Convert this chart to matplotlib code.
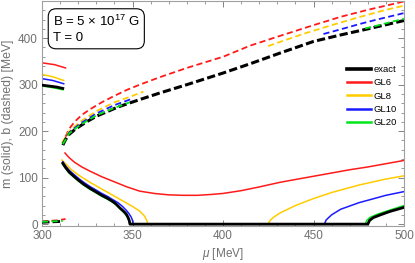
import matplotlib
matplotlib.use("Agg")
import matplotlib.pyplot as plt
from matplotlib.lines import Line2D
from matplotlib.ticker import MultipleLocator

plt.rcParams['font.family'] = ['Liberation Sans', 'DejaVu Sans']
plt.rcParams['mathtext.fontset'] = 'custom'
plt.rcParams['mathtext.rm'] = 'Liberation Sans'
plt.rcParams['mathtext.it'] = 'Liberation Sans:italic'

# ------ data (mu in MeV, values in MeV) ------

# upper solid branch, mu < ~312
mu_up_exact = [300, 304, 308, 311.5]
m_up_exact = [299, 297, 295, 292]
mu_up_gl20 = [300, 304, 308, 311.5]
m_up_gl20 = [297, 295, 292, 289]
mu_up_gl10 = [300, 306, 312]
m_up_gl10 = [313, 309, 302]
mu_up_gl8 = [300, 306, 312]
m_up_gl8 = [322, 317, 309]
mu_up_gl6 = [300, 307, 313]
m_up_gl6 = [347, 343, 336]

# lower solid branch (m), including the m = 0 stretch and the rise
mu_lo_exact = [311.5, 313, 315, 317, 320, 323, 326.5, 330, 333, 336, 339, 341, 343,
               345, 346.5, 347.5, 348.2, 348.6, 480, 481, 483, 487, 492, 500]
m_lo_exact = [131, 122, 112, 105, 95, 86, 77, 69, 62, 56, 49, 43, 35,
              28, 22, 15, 8, 0, 0, 8, 14, 20, 27, 36]
mu_lo_gl20 = [311.3, 313, 315, 317, 320, 323, 326.5, 330, 333, 336, 339, 341, 343,
              345, 346.3, 347.3, 348, 348.5, 478.5, 479.5, 481, 485, 492, 500]
m_lo_gl20 = [129, 120, 110, 103, 93, 84, 75, 67, 60, 54, 47, 41, 33,
             26, 20, 13, 7, 0, 0, 8, 14, 21, 30, 40]
mu_lo_gl10 = [311.5, 313, 315, 317, 320, 323, 326.5, 330, 333, 336, 339, 342,
              344.5, 346.5, 348, 349.3, 350, 350.3, 456, 457, 460, 465, 475, 490, 500]
m_lo_gl10 = [134, 125, 116, 109, 99, 90, 81, 73, 66, 60, 53, 46,
             38, 30, 23, 15, 8, 0, 0, 9, 20, 32, 46, 62, 70]
mu_lo_gl8 = [311, 313, 316, 320, 326.5, 331, 336, 341, 346, 350, 354, 356.5, 357.8,
             358.6, 425, 426, 428, 431.5, 440, 450, 460, 475, 490, 500]
m_lo_gl8 = [138, 130, 118, 106, 90, 80, 69, 58, 47, 38, 28, 18, 9,
            0, 0, 8, 15, 24, 40, 55, 68, 84, 97, 104]
mu_lo_gl6 = [312.7, 315, 318, 322, 326.5, 333, 340, 347, 354, 362, 370, 378, 386,
             394, 400, 410, 420, 431.5, 440, 450, 460, 470, 480, 490, 500]
m_lo_gl6 = [153, 143, 133, 123, 114, 102, 91, 80, 71, 66, 63, 62, 62,
            64, 66, 72, 80, 90, 96, 103, 110, 117, 123, 130, 137]

# dashed b, small values for mu < ~312
mu_b0_exact = [300, 306, 311.5]
b0_exact = [4, 5, 6]
mu_b0_gl20 = [300, 306, 311.5]
b0_gl20 = [5, 6, 7]
mu_b0_gl6 = [300, 308, 313]
b0_gl6 = [6, 8, 11]

# dashed b, upper branch
mu_b_exact = [311.5, 313, 315, 318, 321, 325, 330, 336, 342, 348, 354, 365, 380,
              400, 415, 431.5, 450, 465, 480, 500]
b_exact = [170, 182, 193, 203, 211, 221, 232, 242, 252, 260, 268, 282, 300,
           325, 345, 368, 393, 407, 420, 438]
mu_b_gl20_a = [311.5, 315, 321, 330, 340, 348.5]
b_gl20_a = [172, 195, 213, 234, 250, 262]
mu_b_gl20_b = [478.5, 485, 492, 500]
b_gl20_b = [421, 427, 434, 442]
mu_b_gl10_a = [311.5, 315, 321, 330, 340, 350]
b_gl10_a = [173, 197, 216, 238, 256, 270]
mu_b_gl10_b = [455.5, 465, 475, 485, 500]
b_gl10_b = [409, 419, 430, 440, 454]
mu_b_gl8_a = [311, 315, 321, 330, 340, 350, 356]
b_gl8_a = [175, 200, 220, 243, 262, 276, 285]
mu_b_gl8_b = [425, 431.5, 445, 460, 475, 490, 500]
b_gl8_b = [383, 392, 410, 428, 445, 461, 470]
mu_b_gl6 = [313, 315, 318, 322, 326.5, 333, 340, 347, 354, 365, 380, 400, 415,
            431.5, 450, 465, 480, 500]
b_gl6 = [188, 205, 220, 235, 247, 262, 276, 289, 300, 316, 336, 360, 384,
         405, 428, 446, 461, 479]

names = ["exact", "GL6", "GL8", "GL10", "GL20"]
colors = {"exact": "black", "GL6": "#ff1a1a", "GL8": "#ffcc00",
          "GL10": "#1a1aff", "GL20": "#00e61a"}

gray = "#707070"

# ----------- figure ----------------------------

fig = plt.figure(figsize=(4.15, 2.63), dpi=100)
ax = fig.add_axes([42/415, 37/263, 362/415, 225/263])

sol_lw = 1.1
dash_c = (0, (3.4, 1.9))
dash_k = (0, (2.7, 1.1))

# colored curves first, black on top
for nm, mu_u, m_u, mu_l, m_l in [
        ("GL6", mu_up_gl6, m_up_gl6, mu_lo_gl6, m_lo_gl6),
        ("GL8", mu_up_gl8, m_up_gl8, mu_lo_gl8, m_lo_gl8),
        ("GL10", mu_up_gl10, m_up_gl10, mu_lo_gl10, m_lo_gl10),
        ("GL20", mu_up_gl20, m_up_gl20, mu_lo_gl20, m_lo_gl20)]:
    ax.plot(mu_u, m_u, color=colors[nm], lw=sol_lw, zorder=2)
    ax.plot(mu_l, m_l, color=colors[nm], lw=sol_lw, zorder=2)

ax.plot(mu_b0_gl6, b0_gl6, color=colors["GL6"], lw=1.3, ls=dash_c, zorder=2)
ax.plot(mu_b_gl6, b_gl6, color=colors["GL6"], lw=1.3, ls=dash_c, zorder=2)
ax.plot(mu_b_gl8_a, b_gl8_a, color=colors["GL8"], lw=1.3, ls=dash_c, zorder=2)
ax.plot(mu_b_gl8_b, b_gl8_b, color=colors["GL8"], lw=1.3, ls=dash_c, zorder=2)
ax.plot(mu_b_gl10_a, b_gl10_a, color=colors["GL10"], lw=1.3, ls=dash_c, zorder=2)
ax.plot(mu_b_gl10_b, b_gl10_b, color=colors["GL10"], lw=1.3, ls=dash_c, zorder=2)

ax.plot(mu_up_exact, m_up_exact, color="black", lw=2.0, zorder=3)
ax.plot(mu_lo_exact, m_lo_exact, color="black", lw=2.0, zorder=3)
ax.plot(mu_b0_exact, b0_exact, color="black", lw=2.0, ls=dash_k, zorder=3)
ax.plot(mu_b_exact, b_exact, color="black", lw=2.2, ls=dash_k, zorder=3)

ax.plot(mu_b0_gl20, b0_gl20, color=colors["GL20"], lw=1.3, ls=dash_c, zorder=4)
ax.plot(mu_b_gl20_a, b_gl20_a, color=colors["GL20"], lw=1.3, ls=dash_c, zorder=4)
ax.plot(mu_b_gl20_b, b_gl20_b, color=colors["GL20"], lw=1.3, ls=dash_c, zorder=4)

ax.set_xlim(300, 500)
ax.set_ylim(-4, 480)

ax.xaxis.set_major_locator(MultipleLocator(50))
ax.xaxis.set_minor_locator(MultipleLocator(10))
ax.yaxis.set_major_locator(MultipleLocator(100))
ax.yaxis.set_minor_locator(MultipleLocator(20))
ax.tick_params(which="both", direction="in", top=True, right=True,
               color=gray, labelcolor=gray, labelsize=8.5)
ax.tick_params(which="major", length=4, width=0.6, pad=3)
ax.tick_params(which="minor", length=2, width=0.5)
for sp in ax.spines.values():
    sp.set_color("#a0a0a0")
    sp.set_linewidth(0.8)

ax.set_xlabel(r"$\mu$ [MeV]", color=gray, fontsize=8.5, labelpad=3)
ax.set_ylabel("m (solid), b (dashed) [MeV]", color=gray, fontsize=8.8, labelpad=3)

ax.text(0.03, 0.945, "B = 5 × 10$^{17}$ G\nT = 0", transform=ax.transAxes,
        ha="left", va="top", fontsize=9.5, linespacing=1.4,
        bbox=dict(boxstyle="round,pad=0.35,rounding_size=0.6",
                  facecolor="white", edgecolor="black", lw=0.8))

handles = [Line2D([], [], color=colors[n], lw=2.6 if n == "exact" else 1.8)
           for n in names]
ax.legend(handles, names, loc="upper left", bbox_to_anchor=(0.843, 0.715),
          frameon=False, fontsize=6.8, handlelength=2.5, handletextpad=0.3,
          labelspacing=0.45, borderpad=0, borderaxespad=0)

plt.savefig("out.png", dpi=100)
